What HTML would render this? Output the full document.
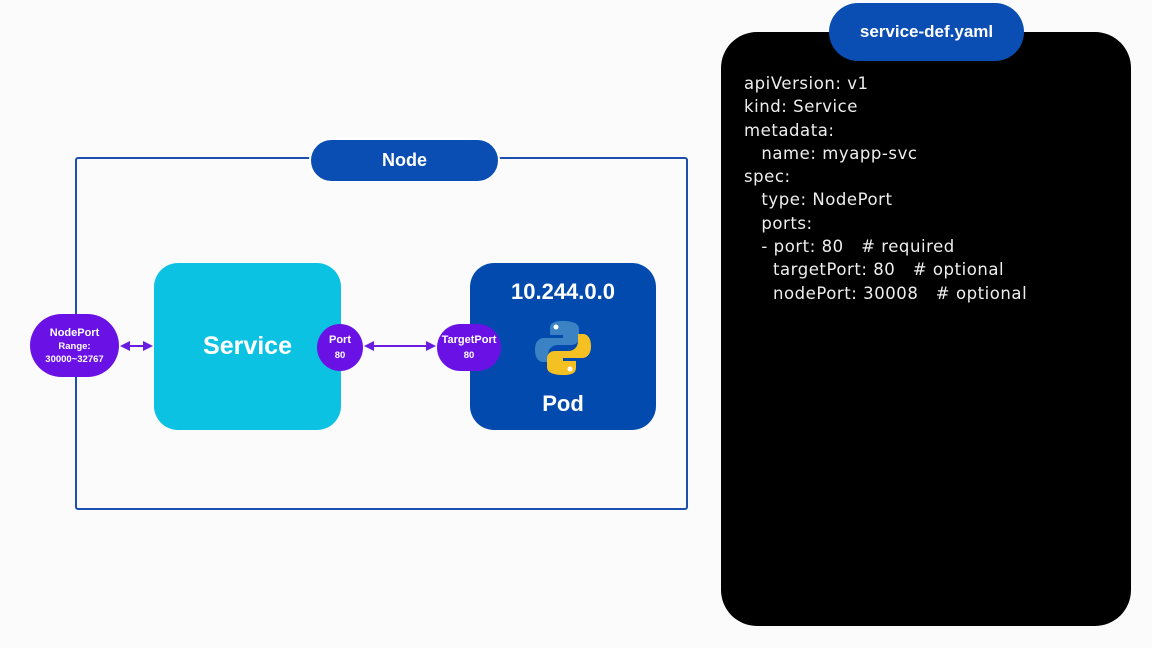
<!DOCTYPE html>
<html><head><meta charset="utf-8"><style>
body{margin:0;width:1152px;height:648px;background:#fbfbfb;position:relative;overflow:hidden;font-family:"Liberation Sans","DejaVu Sans",sans-serif}
.a{position:absolute;box-sizing:border-box}
.c{display:flex;align-items:center;justify-content:center;flex-direction:column;color:#fff;font-weight:bold;text-align:center}
.code{position:absolute;left:744px;top:72px;color:#eee;font-size:16.5px;line-height:23.3px;letter-spacing:0.55px;white-space:pre;font-family:"DejaVu Sans","Liberation Sans",sans-serif}
</style></head><body>
<div class="a" style="left:75px;top:157px;width:613px;height:353px;border:2px solid #1d4fae;border-radius:3px"></div>
<div class="a c" style="left:309px;top:138px;width:191px;height:45px;background:#0a4db3;border:2px solid #fff;border-radius:23px;font-size:18px">Node</div>
<div class="a c" style="left:154px;top:263px;width:187px;height:167px;background:#0cc2e2;border-radius:24px;font-size:25px">Service</div>
<div class="a c" style="left:470px;top:263px;width:186px;height:167px;background:#034aae;border-radius:24px;font-size:22px">
<div style="position:absolute;top:16px;width:100%">10.244.0.0</div>
<svg style="position:absolute;left:64px;top:56px" width="58" height="58" viewBox="0 0 58 58">
<path d="M28 2c-12 0-12 5-12 8v6h13v3H10c-6 0-9 5-9 12s3 12 8 12h5v-7c0-6 4-10 10-10h13c5 0 8-3 8-8V10c0-5-5-8-17-8z" fill="#3b82c4"/>
<path d="M30 56c12 0 12-5 12-8v-6H29v-3h19c6 0 9-5 9-12s-3-12-8-12h-5v7c0 6-4 10-10 10H21c-5 0-8 3-8 8v8c0 5 5 8 17 8z" fill="#f5c022"/>
<circle cx="22" cy="8" r="2.5" fill="#fff"/><circle cx="36" cy="50" r="2.5" fill="#fff"/></svg>
<div style="position:absolute;top:128px;width:100%">Pod</div></div>
<svg class="a" style="left:0;top:0" width="1152" height="648">
<defs><marker id="m" markerWidth="5" markerHeight="5" refX="4" refY="2.5" orient="auto-start-reverse"><path d="M0,0L5,2.5L0,5z" fill="#6a1be0"/></marker></defs>
<line x1="122" y1="346" x2="151" y2="346" stroke="#6a1be0" stroke-width="2" marker-start="url(#m)" marker-end="url(#m)"/>
<line x1="366" y1="346" x2="434" y2="346" stroke="#6a1be0" stroke-width="2" marker-start="url(#m)" marker-end="url(#m)"/>
</svg>
<div class="a c" style="left:30px;top:314px;width:89px;height:63px;background:#6a12e6;border-radius:32px;font-size:11px;line-height:14px">NodePort<span style="font-size:9.5px;line-height:13px">Range:<br>30000~32767</span></div>
<div class="a c" style="left:317px;top:324px;width:46px;height:47px;background:#6a12e6;border-radius:50%;font-size:11px;line-height:15px">Port<span style="font-size:9.5px">80</span></div>
<div class="a c" style="left:437px;top:324px;width:64px;height:47px;background:#6a12e6;border-radius:24px;font-size:11px;line-height:15px">TargetPort<span style="font-size:9.5px">80</span></div>
<div class="a" style="left:721px;top:32px;width:410px;height:594px;background:#000;border-radius:36px"></div>
<div class="a c" style="left:829px;top:3px;width:195px;height:58px;background:#0a4db3;border-radius:29px;font-size:17px">service-def.yaml</div>
<div class="code">apiVersion: v1
kind: Service
metadata:
   name: myapp-svc
spec:
   type: NodePort
   ports:
   - port: 80   # required
     targetPort: 80   # optional
     nodePort: 30008   # optional</div>
</body></html>
